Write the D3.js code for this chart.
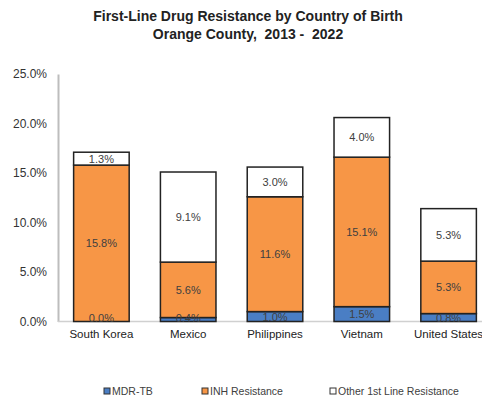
<!DOCTYPE html>
<html>
<head>
<meta charset="utf-8">
<script src="https://cdn.jsdelivr.net/npm/d3@7"></script>
<style>
  body { margin: 0; background: #fff; }
  svg { font-family: "Liberation Sans", Arial, sans-serif; }
</style>
</head>
<body>
<div id="chart"></div>
<script>
// data (percent)
const countries = ['South Korea', 'Mexico', 'Philippines', 'Vietnam', 'United States']
const mdrTB = [0.0, 0.4, 1.0, 1.5, 0.8]
const inhRes = [15.8, 5.6, 11.6, 15.1, 5.3]
const otherRes = [1.3, 9.1, 3.0, 4.0, 5.3]
const seriesNames = ['MDR-TB', 'INH Resistance', 'Other 1st Line Resistance']
const yTicks = [0, 5, 10, 15, 20, 25]

const colors = ['#4a7ec4', '#f79646', '#ffffff']

const width = 482, height = 401
const margin = {top: 74, right: -10, bottom: 80, left: 58}

const table = countries.map((c, i) => ({country: c, mdr: mdrTB[i], inh: inhRes[i], other: otherRes[i]}))
const keys = ['mdr', 'inh', 'other']
const stacked = d3.stack().keys(keys)(table)

const svg = d3.select('#chart').append('svg')
    .attr('width', width)
    .attr('height', height)

const x = d3.scaleBand()
    .domain(countries)
    .range([margin.left, width - margin.right])
    .paddingInner(0.36)
    .paddingOuter(0.18)

const y = d3.scaleLinear()
    .domain([0, 25])
    .range([height - margin.bottom + 0.5, margin.top])

// title
const title = svg.append('text')
    .attr('text-anchor', 'middle')
    .style('white-space', 'pre')
    .style('font-family', '"Liberation Sans Narrow", "Arial Narrow", sans-serif')
    .style('font-weight', 'bold')
    .style('font-size', '14px')
    .attr('fill', '#222')
title.append('tspan').attr('x', 248).attr('y', 21).text('First-Line Drug Resistance by Country of Birth')
title.append('tspan').attr('x', 248).attr('y', 39).text('Orange County,  2013 -  2022')

// y axis
const yAxis = svg.append('g')
    .attr('transform', `translate(${margin.left},0)`)
    .call(d3.axisLeft(y).tickValues(yTicks).tickSize(0).tickPadding(11).tickFormat(d => d.toFixed(1) + '%'))
yAxis.select('.domain').attr('stroke', '#bdbdbd').attr('stroke-width', 2)
yAxis.selectAll('text').style('font-size', '12px').attr('fill', '#333')

// baseline
svg.append('line')
    .attr('x1', margin.left).attr('x2', width)
    .attr('y1', y(0)).attr('y2', y(0))
    .attr('stroke', '#d0d0d0').attr('stroke-width', 1.5)

// bars
const layer = svg.append('g').selectAll('g')
    .data(stacked)
    .join('g')
    .attr('fill', (d, i) => colors[i])

layer.selectAll('rect')
    .data(d => d)
    .join('rect')
    .attr('x', d => x(d.data.country))
    .attr('y', d => y(d[1]))
    .attr('width', x.bandwidth())
    .attr('height', d => y(d[0]) - y(d[1]))
    .attr('stroke', '#222')
    .attr('stroke-width', 1.5)

// value labels
stacked.forEach((s, i) => {
    svg.append('g').selectAll('text')
        .data(s)
        .join('text')
        .attr('x', d => x(d.data.country) + x.bandwidth() / 2)
        .attr('y', d => {
            const mid = (y(d[0]) + y(d[1])) / 2
            return i === 0 ? Math.min(mid, y(0) - 4) + 4 : mid + 4
        })
        .attr('text-anchor', 'middle')
        .style('font-size', '11px')
        .attr('fill', '#404040')
        .text(d => (d[1] - d[0]).toFixed(1) + '%')
})

// x labels
svg.append('g').selectAll('text')
    .data(countries)
    .join('text')
    .attr('x', d => x(d) + x.bandwidth() / 2)
    .attr('y', y(0) + 16)
    .attr('text-anchor', 'middle')
    .style('font-size', '11.5px')
    .attr('fill', '#222')
    .text(d => d)

// legend
const legendX = [104, 202, 330]
const legend = svg.append('g').selectAll('g')
    .data(seriesNames)
    .join('g')
    .attr('transform', (d, i) => `translate(${legendX[i]},395)`)
legend.append('rect')
    .attr('x', 0).attr('y', -7)
    .attr('width', 6).attr('height', 6)
    .attr('fill', (d, i) => colors[i])
    .attr('stroke', '#333').attr('stroke-width', 1)
legend.append('text')
    .attr('x', 8).attr('y', 0)
    .style('font-size', '10.5px')
    .attr('fill', '#404040')
    .text(d => d)
</script>
</body>
</html>
